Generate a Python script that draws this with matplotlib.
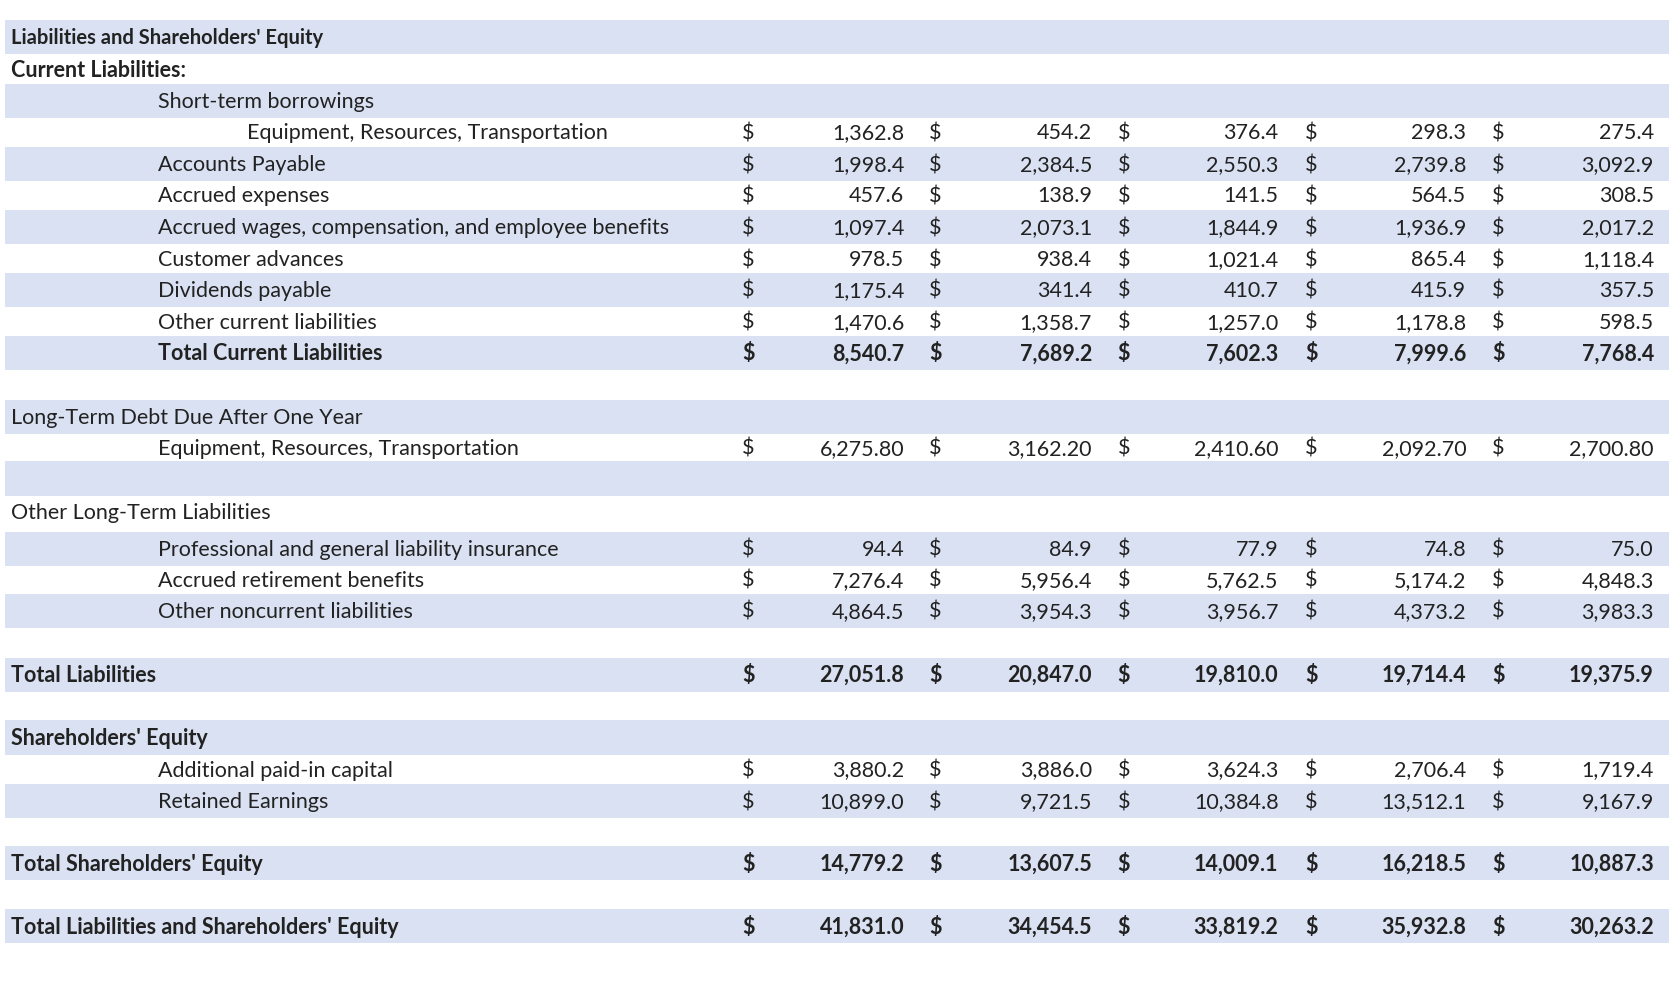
import matplotlib.pyplot as plt
from matplotlib.patches import Rectangle

# label, indent level, bold, shaded, values (None = no values)
labels = [
    "Liabilities and Shareholders' Equity", "Current Liabilities:", "Short-term borrowings",
    "Equipment, Resources, Transportation", "Accounts Payable", "Accrued expenses",
    "Accrued wages, compensation, and employee benefits", "Customer advances",
    "Dividends payable", "Other current liabilities", "Total Current Liabilities", "",
    "Long-Term Debt Due After One Year", "Equipment, Resources, Transportation", "",
    "Other Long-Term Liabilities", "Professional and general liability insurance",
    "Accrued retirement benefits", "Other noncurrent liabilities", "", "Total Liabilities", "",
    "Shareholders' Equity", "Additional paid-in capital", "Retained Earnings", "",
    "Total Shareholders' Equity", "", "Total Liabilities and Shareholders' Equity",
]
indent = [0, 0, 1, 2, 1, 1, 1, 1, 1, 1, 1, 0, 0, 1, 0, 0, 1, 1, 1, 0, 0, 0, 0, 1, 1, 0, 0, 0, 0]
bold = [1, 1, 0, 0, 0, 0, 0, 0, 0, 0, 1, 0, 0, 0, 0, 0, 0, 0, 0, 0, 1, 0, 1, 0, 0, 0, 1, 0, 1]
shaded = [1, 0, 1, 0, 1, 0, 1, 0, 1, 0, 1, 0, 1, 0, 1, 0, 1, 0, 1, 0, 1, 0, 1, 0, 1, 0, 1, 0, 1]
row_y = [35, 65, 95, 124, 154, 183, 213, 243, 272, 302, 331, 361, 391, 420, 449, 480,
         515, 544, 573, 603, 633, 662, 692, 722, 752, 781, 810, 840, 869]
values = {
    3: ["1,362.8", "454.2", "376.4", "298.3", "275.4"],
    4: ["1,998.4", "2,384.5", "2,550.3", "2,739.8", "3,092.9"],
    5: ["457.6", "138.9", "141.5", "564.5", "308.5"],
    6: ["1,097.4", "2,073.1", "1,844.9", "1,936.9", "2,017.2"],
    7: ["978.5", "938.4", "1,021.4", "865.4", "1,118.4"],
    8: ["1,175.4", "341.4", "410.7", "415.9", "357.5"],
    9: ["1,470.6", "1,358.7", "1,257.0", "1,178.8", "598.5"],
    10: ["8,540.7", "7,689.2", "7,602.3", "7,999.6", "7,768.4"],
    13: ["6,275.80", "3,162.20", "2,410.60", "2,092.70", "2,700.80"],
    16: ["94.4", "84.9", "77.9", "74.8", "75.0"],
    17: ["7,276.4", "5,956.4", "5,762.5", "5,174.2", "4,848.3"],
    18: ["4,864.5", "3,954.3", "3,956.7", "4,373.2", "3,983.3"],
    20: ["27,051.8", "20,847.0", "19,810.0", "19,714.4", "19,375.9"],
    23: ["3,880.2", "3,886.0", "3,624.3", "2,706.4", "1,719.4"],
    24: ["10,899.0", "9,721.5", "10,384.8", "13,512.1", "9,167.9"],
    26: ["14,779.2", "13,607.5", "14,009.1", "16,218.5", "10,887.3"],
    28: ["41,831.0", "34,454.5", "33,819.2", "35,932.8", "30,263.2"],
}

W, H = 1567, 928
fig = plt.figure(figsize=(16.71, 9.89), dpi=100)
ax = fig.add_axes([0, 0, 1, 1])
ax.set_xlim(0, W)
ax.set_ylim(H, 0)
ax.axis("off")

band = "#D9E1F2"
indent_x = [10, 148, 232]
dollar_x = [702, 877, 1054, 1230, 1405]
value_x = [848, 1024, 1199, 1375, 1551]
font = "Lato"
fs = 15.5

for i, y in enumerate(row_y):
    if shaded[i]:
        ax.add_patch(Rectangle((5, y - 16), 1560, 32, color=band, lw=0))
    w = "bold" if bold[i] else "normal"
    size = fs - 1 if i == 0 else fs
    ax.text(indent_x[indent[i]], y + 1, labels[i], fontsize=size, fontweight=w,
            family=font, va="center", ha="left", color="#222222")
    if i in values:
        for dx, vx, v in zip(dollar_x, value_x, values[i]):
            ax.text(dx, y + 1, "$", fontsize=fs, fontweight=w, family=font,
                    va="center", ha="center", color="#222222")
            ax.text(vx, y + 1, v, fontsize=fs, fontweight=w, family=font,
                    va="center", ha="right", color="#222222")

fig.savefig("out.png", dpi=100)
